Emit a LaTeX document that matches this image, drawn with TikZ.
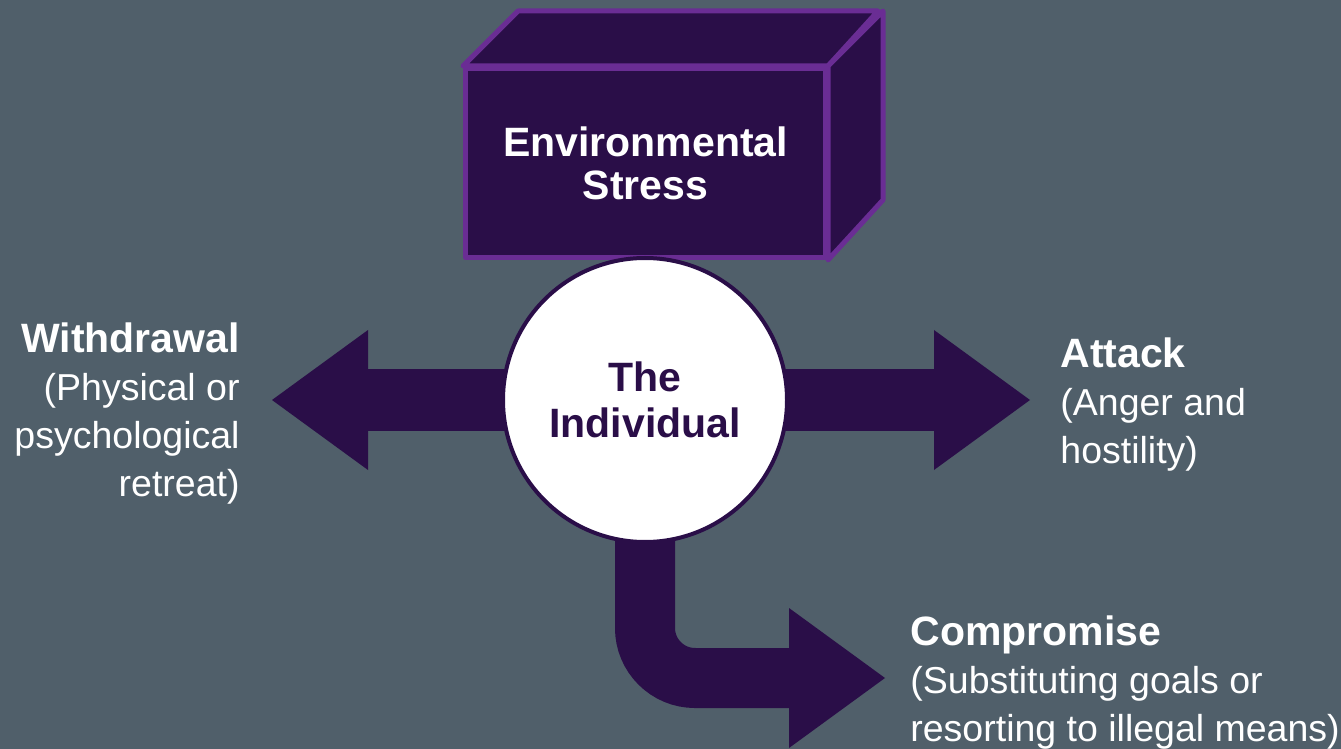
\documentclass[tikz,border=0pt]{standalone}
\usepackage{fontspec}
\setmainfont{Liberation Sans}
\usetikzlibrary{arrows.meta,backgrounds}
\definecolor{slate}{RGB}{80,95,106}
\definecolor{plum}{RGB}{42,14,72}
\definecolor{lilac}{RGB}{106,45,148}
\newcommand{\headfont}{\fontsize{20.5}{24}\selectfont\bfseries}
\begin{document}
\begin{tikzpicture}[x=0.5pt,y=-0.5pt,
    fat/.style={plum,line width=31pt,-{Triangle[length=48pt,width=70pt,line width=0pt]}},
    face/.style={draw=lilac,fill=plum,line width=2.5pt,line join=round},
    lbl/.style={text=white,inner sep=0pt,font=\fontsize{18.75}{24}\selectfont}]
    \useasboundingbox (0,0) rectangle (1341,749);
    % the stress block
    \node[face,minimum width=180pt,minimum height=94.5pt,anchor=north west,text=white,align=center,font=\fontsize{20.5}{21.5}\selectfont\bfseries] (stress) at (463,66) {Environmental\\Stress};
    \draw[face] (stress.north west) -- ++(55,-55) -- ++(360,0) -- (stress.north east) -- cycle;
    \draw[face] (stress.north east) -- ++(55,-55) -- ++(0,189) -- (stress.south east) -- cycle;
    \node[circle,draw=plum,fill=white,line width=2pt,minimum size=142pt,text=plum,align=center,font=\fontsize{20.5}{23}\selectfont\bfseries] (indiv) at (645,400) {The\\Individual};
    \coordinate (wtip) at (272,400);
    \coordinate (atip) at (1030,400);
    \coordinate (ctip) at (885,678);
    \begin{pgfonlayer}{background}
      \fill[slate] (0,0) rectangle (1341,749);
      \draw[fat] (indiv.center) -- (wtip);
      \draw[fat] (indiv.center) -- (atip);
      \draw[fat,line width=30pt,rounded corners=25pt] (indiv.center) |- (ctip);
    \end{pgfonlayer}
    % responses
    \node[lbl,anchor=north east,align=right] (wd) at (240,322) {{\headfont Withdrawal}\\(Physical or\\psychological\\retreat)};
    \node[lbl,anchor=north west,align=left] (at) at (1060,337) {{\headfont Attack}\\(Anger and\\hostility)};
    \node[lbl,anchor=north west,align=left] (cp) at (910,615) {{\headfont Compromise}\\(Substituting goals or\\resorting to illegal means)};
  \end{tikzpicture}
\end{document}
